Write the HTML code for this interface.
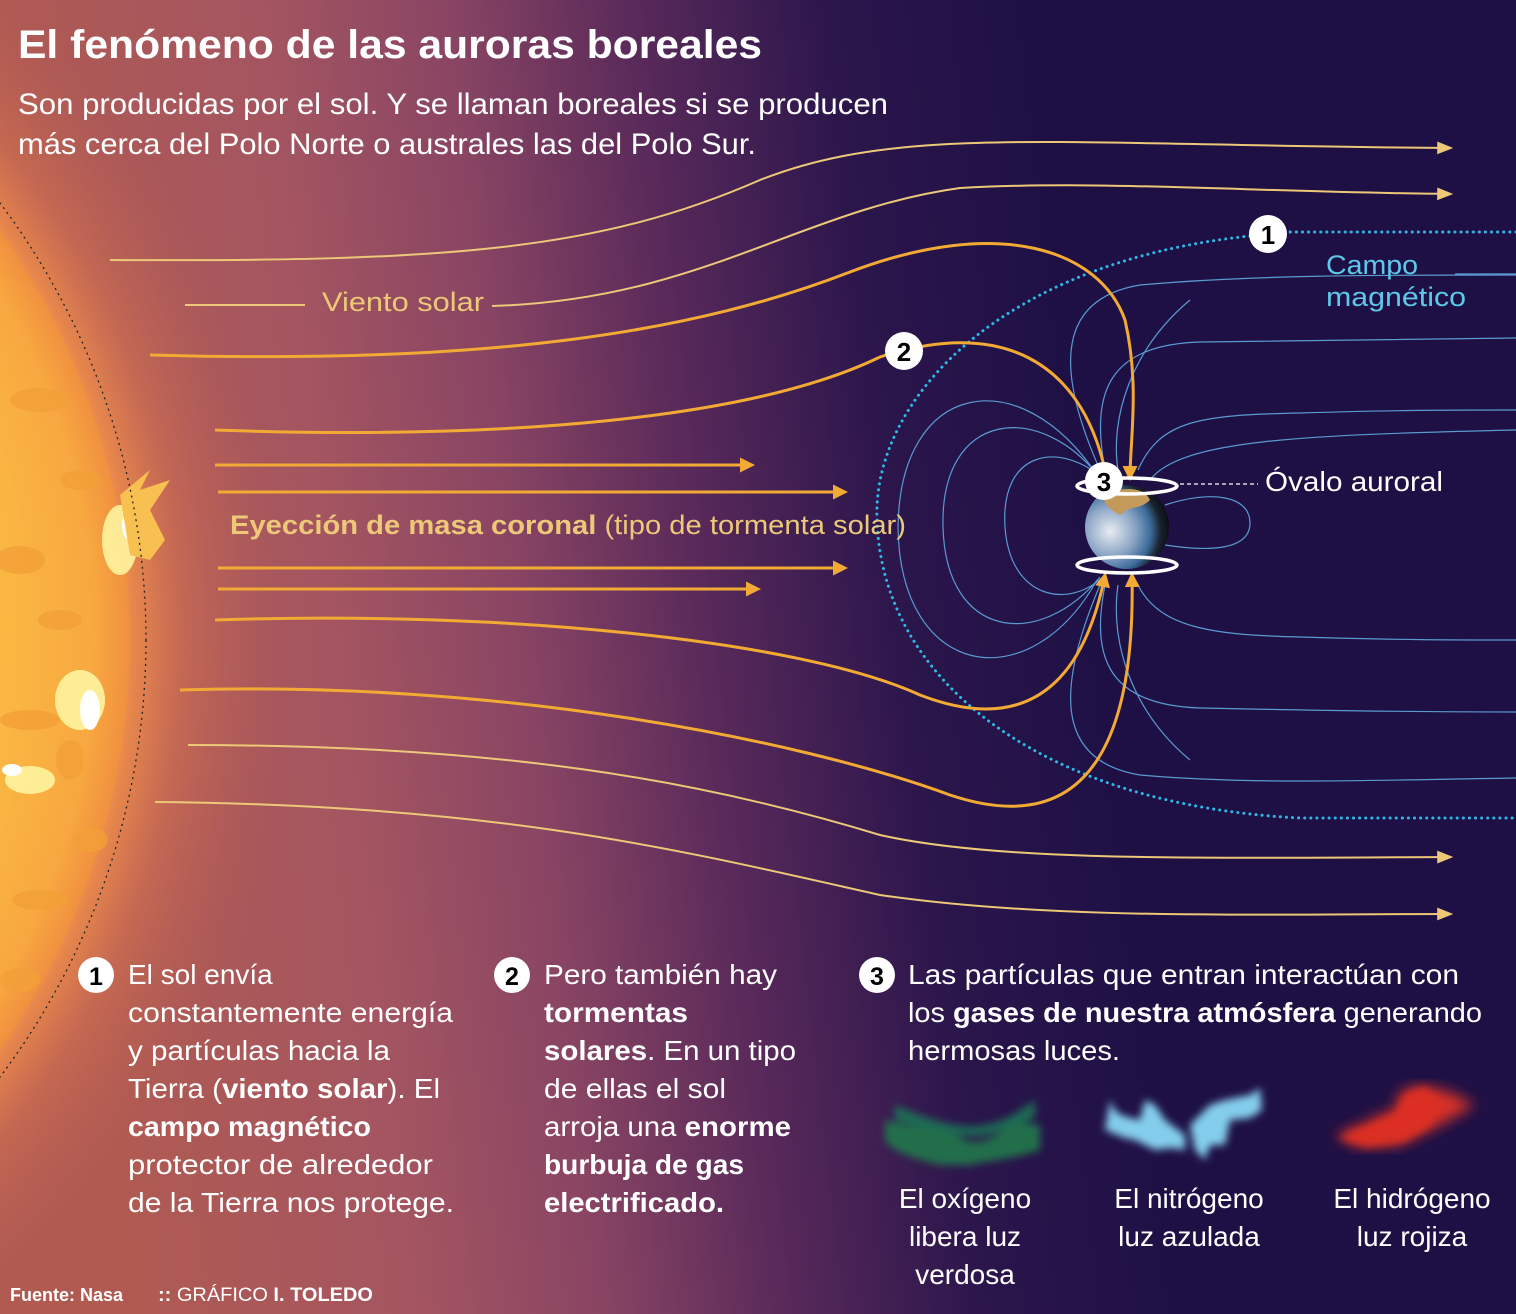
<!DOCTYPE html>
<html><head><meta charset="utf-8"><style>
html,body{margin:0;padding:0;background:#1e1045;overflow:hidden;width:1516px;height:1314px}
svg{display:block}
text{font-family:"Liberation Sans",sans-serif}
</style></head><body>
<svg width="1516" height="1314" viewBox="0 0 1516 1314" xmlns="http://www.w3.org/2000/svg">
<defs>
<linearGradient id="bg" x1="0" y1="0.1" x2="1" y2="0">
<stop offset="0" stop-color="#b05a52"/>
<stop offset="0.18" stop-color="#a45560"/>
<stop offset="0.3" stop-color="#8a4563"/>
<stop offset="0.42" stop-color="#5a2a5a"/>
<stop offset="0.55" stop-color="#2c164c"/>
<stop offset="0.68" stop-color="#1e1045"/>
<stop offset="1" stop-color="#1e1045"/>
</linearGradient>
<radialGradient id="glow" cx="-581" cy="640" r="880" gradientUnits="userSpaceOnUse">
<stop offset="0.8" stop-color="#f0904a" stop-opacity="1"/>
<stop offset="0.87" stop-color="#e07a50" stop-opacity="0.45"/>
<stop offset="1" stop-color="#b05a55" stop-opacity="0"/>
</radialGradient>
<radialGradient id="sun" cx="-581" cy="640" r="711" gradientUnits="userSpaceOnUse">
<stop offset="0.7" stop-color="#fbc845"/>
<stop offset="0.95" stop-color="#f8a840"/>
<stop offset="1" stop-color="#f09040"/>
</radialGradient>
<radialGradient id="earth" cx="0.3" cy="0.55" r="0.75">
<stop offset="0" stop-color="#e8ecf2"/>
<stop offset="0.4" stop-color="#8aa4c4"/>
<stop offset="0.65" stop-color="#3a6a98"/>
<stop offset="0.8" stop-color="#1a2230"/>
<stop offset="1" stop-color="#050505"/>
</radialGradient>
<filter id="b4"><feGaussianBlur stdDeviation="4"/></filter>
<filter id="b8"><feGaussianBlur stdDeviation="7"/></filter>
<marker id="ar" viewBox="0 0 10 10" refX="8" refY="5" markerWidth="5" markerHeight="5" orient="auto"><path d="M0,0 L10,5 L0,10 z" fill="#f2aa35"/></marker>
<marker id="ay" viewBox="0 0 10 10" refX="8" refY="5" markerWidth="8" markerHeight="8" orient="auto"><path d="M0,1 L10,5 L0,9 z" fill="#ecc878"/></marker>
</defs>
<rect width="1516" height="1314" fill="url(#bg)"/>
<circle cx="-581" cy="640" r="880" fill="url(#glow)"/>
<circle cx="-581" cy="640" r="711" fill="url(#sun)"/>
<g fill="#f3a038" opacity="0.8">
<ellipse cx="40" cy="400" rx="30" ry="12"/><ellipse cx="80" cy="480" rx="20" ry="10"/><ellipse cx="20" cy="560" rx="25" ry="14"/>
<ellipse cx="60" cy="620" rx="22" ry="10"/><ellipse cx="30" cy="720" rx="30" ry="10"/><ellipse cx="90" cy="840" rx="18" ry="12"/>
<ellipse cx="40" cy="900" rx="28" ry="10"/><ellipse cx="20" cy="980" rx="20" ry="12"/><ellipse cx="70" cy="760" rx="14" ry="20"/>
</g>
<g fill="#fff4a0" opacity="0.9">
<ellipse cx="80" cy="700" rx="25" ry="30"/><ellipse cx="30" cy="780" rx="25" ry="14"/><ellipse cx="120" cy="540" rx="18" ry="35"/>
</g>
<g fill="#ffffff"><ellipse cx="90" cy="710" rx="10" ry="20"/><ellipse cx="130" cy="525" rx="8" ry="15"/><ellipse cx="12" cy="770" rx="10" ry="6"/></g>
<path d="M120 495 L150 470 L140 490 L170 480 L150 510 L165 540 L150 560 L130 555 Z" fill="#f8c050"/>
<circle cx="-581" cy="640" r="727" fill="none" stroke="#222" stroke-width="1.3" stroke-dasharray="2 4"/>

<g fill="none" stroke="#5a9ad0" stroke-width="1.2">
<path d="M1105 480 C 1060 440, 1000 450, 1005 527 C 1010 600, 1070 610, 1105 575"/>
<path d="M1100 478 C 1040 400, 940 410, 943 527 C 946 640, 1040 650, 1100 577"/>
<path d="M1097 475 C 1020 360, 900 380, 898 527 C 900 680, 1030 700, 1097 580"/>
<path d="M1100 470 C 1060 380, 1050 300, 1140 285 C 1250 275, 1380 275, 1516 275"/>
<path d="M1105 470 C 1090 390, 1110 345, 1200 342 C 1300 340, 1400 340, 1516 338"/>
<path d="M1138 470 C 1160 420, 1200 415, 1300 413 C 1400 410, 1450 410, 1516 410"/>
<path d="M1150 480 C 1180 440, 1300 435, 1516 430"/>
<path d="M1100 585 C 1060 680, 1050 760, 1140 775 C 1250 785, 1380 780, 1516 778"/>
<path d="M1105 585 C 1090 660, 1110 705, 1200 708 C 1300 710, 1400 712, 1516 712"/>
<path d="M1138 585 C 1160 630, 1220 635, 1300 637 C 1400 640, 1450 640, 1516 640"/>
<path d="M1165 505 C 1210 490, 1250 495, 1250 523 C 1250 550, 1210 552, 1165 545"/>
<path d="M1118 470 C 1110 420, 1130 350, 1190 300"/>
<path d="M1118 585 C 1110 640, 1130 710, 1190 760"/>
</g>

<g fill="none" stroke="#ecc878" stroke-width="2">
<path d="M110 260 C 450 262, 600 250, 760 180 C 900 125, 1050 145, 1450 148" marker-end="url(#ay)"/>
<path d="M185 305 L305 305"/>
<path d="M492 306 C 700 300, 800 210, 960 188 C 1100 180, 1250 192, 1450 194" marker-end="url(#ay)"/>
<path d="M188 745 C 500 745, 700 780, 880 835 C 1000 862, 1200 858, 1450 857" marker-end="url(#ay)"/>
<path d="M155 802 C 500 805, 680 850, 880 895 C 1050 920, 1250 914, 1450 914" marker-end="url(#ay)"/>
</g>

<g fill="none" stroke="#2eb8e6" stroke-width="3" stroke-linecap="round" stroke-dasharray="0.1 6">
<path d="M1516 232 L1290 232"/>
<path d="M1250 236 C 1000 262, 872 400, 877 520 C 882 680, 1040 805, 1300 818 L1516 818"/>
</g>

<g fill="none" stroke="#f2aa35" stroke-width="3">
<path d="M150 355 C 500 365, 700 330, 850 272 C 1000 215, 1100 250, 1125 320 C 1140 385, 1130 440, 1130 478" marker-end="url(#ar)"/>
<path d="M215 430 C 500 440, 750 420, 880 357 C 1000 318, 1080 360, 1105 470"/>
<path d="M215 465 L752 465" marker-end="url(#ar)"/>
<path d="M218 492 L845 492" marker-end="url(#ar)"/>
<path d="M218 568 L845 568" marker-end="url(#ar)"/>
<path d="M218 589 L758 589" marker-end="url(#ar)"/>
<path d="M215 620 C 500 610, 800 640, 920 695 C 1050 745, 1090 650, 1105 575" marker-end="url(#ar)"/>
<path d="M180 690 C 500 680, 800 740, 950 795 C 1100 845, 1135 720, 1132 575" marker-end="url(#ar)"/>
</g>

<circle cx="1127" cy="527" r="42" fill="url(#earth)"/>
<path d="M1105 495 C 1125 485, 1145 488, 1150 500 C 1140 510, 1130 505, 1120 515 C 1110 510, 1100 500, 1105 495 Z" fill="#c49a5a"/>
<ellipse cx="1127" cy="486" rx="50" ry="8" fill="none" stroke="#fff" stroke-width="3.5"/>
<ellipse cx="1127" cy="565" rx="50" ry="8" fill="none" stroke="#fff" stroke-width="3.5"/>
<line x1="1180" y1="484" x2="1258" y2="484" stroke="#fff" stroke-width="1.2" stroke-dasharray="4 3"/>

<g font-weight="bold" font-size="26" text-anchor="middle" fill="#000">
<circle cx="1268" cy="234" r="19" fill="#fff"/><text x="1268" y="244">1</text>
<circle cx="904" cy="351" r="19" fill="#fff"/><text x="904" y="361">2</text>
<circle cx="1104" cy="481" r="19" fill="#fff"/><text x="1104" y="491">3</text>
</g>

<text x="18" y="58" font-size="40" font-weight="bold" fill="#fff" textLength="744" lengthAdjust="spacingAndGlyphs">El fenómeno de las auroras boreales</text>
<text x="18" y="114" font-size="30" fill="#fff" textLength="870" lengthAdjust="spacingAndGlyphs">Son producidas por el sol. Y se llaman boreales si se producen</text>
<text x="18" y="154" font-size="30" fill="#fff" textLength="738" lengthAdjust="spacingAndGlyphs">más cerca del Polo Norte o australes las del Polo Sur.</text>
<text x="322" y="311" font-size="27" fill="#ecc878" textLength="162" lengthAdjust="spacingAndGlyphs">Viento solar</text>
<text x="230" y="534" font-size="27" fill="#ecc878" textLength="676" lengthAdjust="spacingAndGlyphs"><tspan font-weight="bold">Eyección de masa coronal</tspan> (tipo de tormenta solar)</text>
<text x="1326" y="274" font-size="27" fill="#5ec8ea" textLength="92" lengthAdjust="spacingAndGlyphs">Campo</text>
<text x="1326" y="306" font-size="27" fill="#5ec8ea" textLength="140" lengthAdjust="spacingAndGlyphs">magnético</text>
<line x1="1455" y1="274" x2="1516" y2="274" stroke="#5a9ad0" stroke-width="1.2"/>
<text x="1265" y="491" font-size="28" fill="#fff" textLength="178" lengthAdjust="spacingAndGlyphs">Óvalo auroral</text>

<g font-size="28" fill="#fff">
<circle cx="96" cy="975" r="18" fill="#fff"/><text x="96" y="985" text-anchor="middle" fill="#000" font-weight="bold" font-size="25">1</text>
<text x="128" y="984">El sol envía</text>
<text x="128" y="1022" textLength="325" lengthAdjust="spacingAndGlyphs">constantemente energía</text>
<text x="128" y="1060" textLength="262" lengthAdjust="spacingAndGlyphs">y partículas hacia la</text>
<text x="128" y="1098" textLength="312" lengthAdjust="spacingAndGlyphs">Tierra (<tspan font-weight="bold">viento solar</tspan>). El</text>
<text x="128" y="1136" font-weight="bold" textLength="243" lengthAdjust="spacingAndGlyphs">campo magnético</text>
<text x="128" y="1174" textLength="305" lengthAdjust="spacingAndGlyphs">protector de alrededor</text>
<text x="128" y="1212" textLength="326" lengthAdjust="spacingAndGlyphs">de la Tierra nos protege.</text>

<circle cx="512" cy="975" r="18" fill="#fff"/><text x="512" y="985" text-anchor="middle" fill="#000" font-weight="bold" font-size="25">2</text>
<text x="544" y="984" textLength="233" lengthAdjust="spacingAndGlyphs">Pero también hay</text>
<text x="544" y="1022" font-weight="bold" textLength="144" lengthAdjust="spacingAndGlyphs">tormentas</text>
<text x="544" y="1060" textLength="252" lengthAdjust="spacingAndGlyphs"><tspan font-weight="bold">solares</tspan>. En un tipo</text>
<text x="544" y="1098" textLength="182" lengthAdjust="spacingAndGlyphs">de ellas el sol</text>
<text x="544" y="1136" textLength="247" lengthAdjust="spacingAndGlyphs">arroja una <tspan font-weight="bold">enorme</tspan></text>
<text x="544" y="1174" font-weight="bold" textLength="200" lengthAdjust="spacingAndGlyphs">burbuja de gas</text>
<text x="544" y="1212" font-weight="bold" textLength="180" lengthAdjust="spacingAndGlyphs">electrificado.</text>

<circle cx="877" cy="975" r="18" fill="#fff"/><text x="877" y="985" text-anchor="middle" fill="#000" font-weight="bold" font-size="25">3</text>
<text x="908" y="984" textLength="551" lengthAdjust="spacingAndGlyphs">Las partículas que entran interactúan con</text>
<text x="908" y="1022" textLength="574" lengthAdjust="spacingAndGlyphs">los <tspan font-weight="bold">gases de nuestra atmósfera</tspan> generando</text>
<text x="908" y="1060" textLength="212" lengthAdjust="spacingAndGlyphs">hermosas luces.</text>

<g text-anchor="middle">
<text x="965" y="1208">El oxígeno</text><text x="965" y="1246">libera luz</text><text x="965" y="1284">verdosa</text>
<text x="1189" y="1208">El nitrógeno</text><text x="1189" y="1246">luz azulada</text>
<text x="1412" y="1208">El hidrógeno</text><text x="1412" y="1246">luz rojiza</text>
</g>
</g>

<g filter="url(#b4)">
<path d="M895 1105 C 930 1120, 960 1130, 985 1125 C 1010 1120, 1020 1110, 1035 1100 L1035 1118 C 1010 1125, 995 1140, 960 1135 C 930 1130, 910 1125, 895 1120 Z" fill="#1f6a55"/>
<path d="M885 1120 C 920 1130, 950 1128, 965 1140 C 985 1148, 1000 1130, 1020 1122 L1040 1125 L1040 1150 C 1010 1160, 990 1160, 970 1165 L940 1165 C 910 1158, 890 1150, 885 1140 Z" fill="#226e4c"/>
</g>
<g filter="url(#b4)">
<path d="M1075 1100 C 1080 1110, 1078 1115, 1105 1120 L1110 1100 L1120 1105 L1130 1120 L1150 1135 L1150 1150 L1135 1148 L1120 1150 L1100 1140 L1090 1138 L1070 1130 Z" fill="#84cdec" transform="translate(35 0)"/>
<path d="M1190 1125 L1200 1115 L1210 1105 L1225 1100 L1250 1095 L1260 1088 L1262 1110 L1250 1118 L1230 1120 L1225 1145 L1210 1145 L1205 1160 L1195 1150 Z" fill="#84cdec"/>
</g>
<path d="M1335 1135 L1360 1125 L1380 1115 L1395 1110 L1400 1092 L1420 1085 L1450 1092 L1475 1105 L1440 1125 L1400 1145 L1360 1148 Z" fill="#d83025" filter="url(#b8)"/>
<path d="M1338 1138 L1365 1128 L1385 1120 L1398 1112 L1405 1095 L1425 1088 L1440 1100 L1430 1125 L1405 1140 L1370 1145 Z" fill="#dc2f22" filter="url(#b4)"/>

<text x="10" y="1301" font-size="18" fill="#fff" font-weight="bold" textLength="113" lengthAdjust="spacingAndGlyphs">Fuente: Nasa</text>
<text x="158" y="1301" font-size="19" fill="#fff" textLength="215" lengthAdjust="spacingAndGlyphs"><tspan font-weight="bold">::</tspan> GRÁFICO <tspan font-weight="bold">I. TOLEDO</tspan></text>
</svg>
</body></html>
